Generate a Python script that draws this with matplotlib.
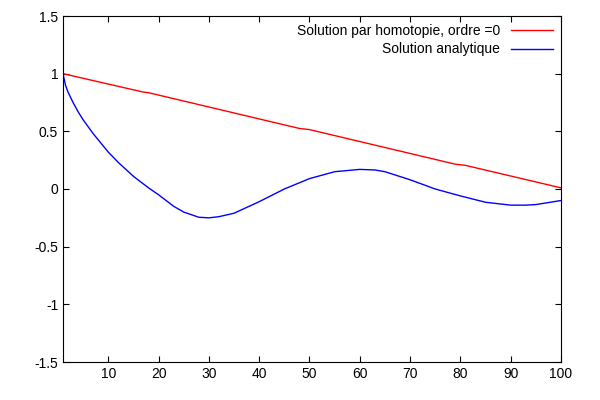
import matplotlib
matplotlib.use("Agg")
import matplotlib.pyplot as plt

plt.rcParams["font.family"] = "Liberation Sans"

red_x = [1, 17, 18, 48, 50, 79, 81, 100]
red_y = [1.0, 0.84, 0.835, 0.525, 0.515, 0.215, 0.205, 0.01]

blue_x = [1, 1.5, 2, 3, 4, 5, 7, 10, 12, 15, 18, 20, 23, 25, 28, 30, 32, 35, 40,
          45, 50, 55, 60, 63, 65, 70, 75, 80, 85, 90, 93, 95, 100]
blue_y = [1.0, 0.9, 0.84, 0.75, 0.67, 0.6, 0.48, 0.32, 0.23, 0.11, 0.01, -0.05,
          -0.15, -0.2, -0.245, -0.25, -0.24, -0.21, -0.11, 0.0, 0.09, 0.15, 0.17,
          0.165, 0.15, 0.08, 0.0, -0.06, -0.115, -0.14, -0.14, -0.135, -0.1]

xticks = [10, 20, 30, 40, 50, 60, 70, 80, 90, 100]
yticks = [-1.5, -1, -0.5, 0, 0.5, 1, 1.5]
ytick_labels = ["-1.5", "-1", "-0.5", "0", "0.5", "1", "1.5"]

fig = plt.figure(figsize=(6, 4), dpi=100)
ax = fig.add_axes([0.105, 0.095, 0.83, 0.865])
ax.plot(red_x, red_y, color="red", lw=1, label="Solution par homotopie, ordre =0")
ax.plot(blue_x, blue_y, color="blue", lw=1, label="Solution analytique")
ax.set_xlim(1, 100)
ax.set_ylim(-1.5, 1.5)
ax.set_xticks(xticks)
ax.set_yticks(yticks)
ax.set_yticklabels(ytick_labels)
ax.tick_params(direction="in", labelsize=10, top=True, right=True, length=4)
leg = ax.legend(loc="upper right", frameon=False, fontsize=10, markerfirst=False,
                handlelength=3, borderaxespad=0.2, labelspacing=0.3)
for t in leg.get_texts():
    t.set_ha("right")
fig.savefig("out.png", dpi=100)
